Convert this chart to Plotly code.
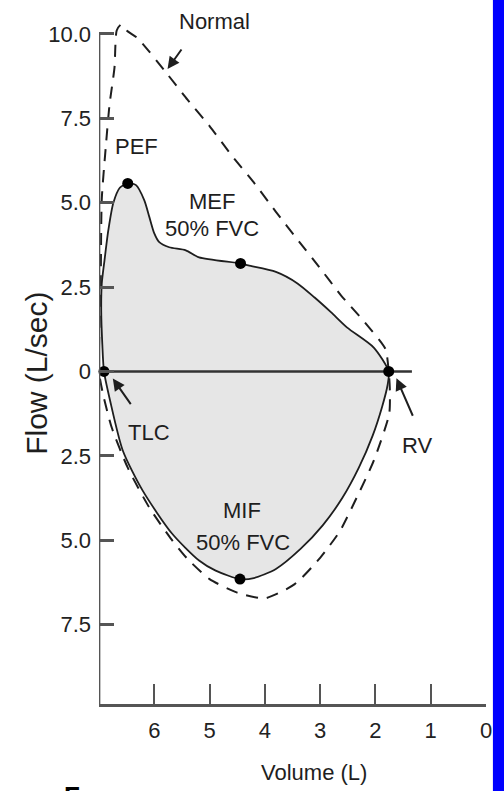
import plotly.graph_objects as go

# ---------------- data (volume in L, flow in L/sec; inspiratory flow negative) -------------
patient_exp_vol = [6.91, 6.94, 6.96, 6.95, 6.90, 6.83, 6.74, 6.62, 6.48, 6.33, 6.18, 6.09, 6.00,
                   5.91, 5.73, 5.43, 5.19, 4.44, 4.30, 3.80, 3.41, 3.10, 2.80, 2.51, 2.03, 1.76]
patient_exp_flow = [0.0, 0.8, 1.8, 2.6, 3.3, 4.2, 5.0, 5.45, 5.57, 5.52, 5.07, 4.58, 4.09,
                    3.83, 3.68, 3.59, 3.38, 3.20, 3.14, 2.95, 2.61, 2.19, 1.75, 1.30, 0.71, 0.0]
patient_insp_vol = [1.76, 1.78, 1.88, 2.05, 2.30, 2.60, 2.95, 3.35, 3.80, 4.20, 4.45, 4.89,
                    5.19, 5.68, 6.21, 6.57, 6.80, 6.91]
patient_insp_flow = [0.0, -0.40, -1.05, -1.90, -2.85, -3.75, -4.55, -5.25, -5.85, -6.12, -6.15,
                     -5.90, -5.60, -4.80, -3.53, -2.34, -0.86, 0.0]

normal_vol = [7.00, 6.97, 6.95, 6.88, 6.81, 6.72, 6.68, 6.60, 6.50, 6.30, 5.76, 5.40, 5.00,
              4.60, 4.20, 3.80, 3.42, 3.02, 2.62, 2.20, 1.82, 1.76, 1.74, 1.75, 2.03, 2.34,
              2.64, 3.00, 3.46, 4.00, 4.50, 5.00, 5.40, 5.70, 6.09, 6.48, 6.77, 6.93, 7.00]
normal_flow = [0.0, 2.5, 5.1, 6.6, 7.9, 9.0, 10.1, 10.28, 10.1, 9.87, 8.8, 8.05, 7.27,
               6.4, 5.6, 4.73, 3.93, 3.1, 2.25, 1.47, 0.67, 0.0, -0.5, -1.25, -2.64, -3.74,
               -4.72, -5.52, -6.30, -6.72, -6.55, -6.15, -5.55, -4.95, -4.03, -2.85, -1.66, -0.65, 0.0]

baseline_vol = [7.0, 1.34]
baseline_flow = [0.0, 0.0]

key_names = ["TLC", "PEF", "MEF", "RV", "MIF"]
key_vol = [6.91, 6.48, 4.44, 1.76, 4.45]
key_flow = [0.0, 5.57, 3.20, 0.0, -6.15]

y_tickvals = [10, 7.5, 5, 2.5, 0, -2.5, -5, -7.5]
y_ticktext = ["10.0", "7.5", "5.0", "2.5", "0", "2.5", "5.0", "7.5"]
x_tickvals = [6, 5, 4, 3, 2, 1, 0]
x_ticktext = ["6", "5", "4", "3", "2", "1", "0"]

# ---------------- layout geometry -------------
W, H = 504, 791
L, R, T, B = 99, 13, 15, 87
PW, PH = W - L - R, H - T - B
X_RANGE = [7.0, 0.0]
Y_RANGE = [-9.85, 10.56]


def px_x(p):
    return (p - L) / PW


def px_y(p):
    return (H - B - p) / PH


FONT = "Liberation Sans, Arial, Helvetica, sans-serif"
INK = "#1e1e1e"
AXC = "#555555"

fig = go.Figure()

loop_v = patient_exp_vol + patient_insp_vol[1:]
loop_f = patient_exp_flow + patient_insp_flow[1:]
fig.add_trace(go.Scatter(x=loop_v, y=loop_f, mode="lines", fill="toself",
                         fillcolor="#e6e6e6",
                         line=dict(color=INK, width=1.8, shape="spline", smoothing=0.7),
                         hoverinfo="skip"))
fig.add_trace(go.Scatter(x=normal_vol, y=normal_flow, mode="lines",
                         line=dict(color=INK, width=2, dash="12px,9px", shape="spline",
                                   smoothing=0.6),
                         hoverinfo="skip"))
fig.add_trace(go.Scatter(x=baseline_vol, y=baseline_flow, mode="lines",
                         line=dict(color="#333333", width=2.5), hoverinfo="skip"))
fig.add_trace(go.Scatter(x=key_vol, y=key_flow, mode="markers", text=key_names,
                         marker=dict(color="black", size=11), cliponaxis=False))

fig.update_xaxes(range=X_RANGE, tickvals=x_tickvals, ticktext=x_ticktext,
                 showgrid=False, zeroline=False, showline=True, linecolor=AXC,
                 linewidth=2.5, ticks="inside", ticklen=20, tickwidth=2, tickcolor=AXC,
                 ticklabelstandoff=5,
                 tickfont=dict(family=FONT, size=22, color="#222"))
fig.update_yaxes(range=Y_RANGE, tickvals=y_tickvals, ticktext=y_ticktext,
                 showgrid=False, zeroline=False, showline=False,
                 ticks="inside", ticklen=15, tickwidth=2.5, tickcolor=AXC,
                 ticklabelstandoff=7,
                 tickfont=dict(family=FONT, size=22, color="#222"))

shapes = [
    dict(type="line", xref="x", yref="y", x0=7.0, x1=7.0, y0=Y_RANGE[0], y1=10.0,
         line=dict(color=AXC, width=2.7)),
    dict(type="rect", xref="paper", yref="paper", x0=px_x(498), x1=px_x(530),
         y0=-1, y1=2, fillcolor="#0000ff", line=dict(width=0), layer="above"),
]

ann = []


def label(text, x, y, size=22, **kw):
    ann.append(dict(text=text, x=px_x(x), y=px_y(y), xref="paper", yref="paper",
                    showarrow=False, xanchor="center", yanchor="middle",
                    font=dict(family=FONT, size=size, color=INK), **kw))


def arrow(xv, yf, ax, ay):
    ann.append(dict(text="", x=xv, y=yf, xref="x", yref="y", ax=ax, ay=ay,
                    showarrow=True, arrowhead=2, arrowsize=1.2, arrowwidth=2,
                    arrowcolor=INK))


label("Normal", 216, 22)
label("PEF", 137, 146)
label("MEF", 213, 201)
label("50% FVC", 213, 229)
label("TLC", 150, 432)
label("RV", 421, 445)
label("MIF", 244, 510)
label("50% FVC", 245, 542)
label("Volume (L)", 317, 772)
label("Flow (L/sec)", 35, 373, size=30, textangle=-90)
ann.append(dict(text="<b>F</b>", x=px_x(72), y=px_y(779), xref="paper", yref="paper",
                showarrow=False, xanchor="center", yanchor="top",
                font=dict(family=FONT, size=26, color="black")))

arrow(5.76, 8.96, 15, -21)
arrow(6.75, -0.21, 19, 27)
arrow(1.62, -0.2, 17, 39)

fig.update_layout(width=W, height=H, margin=dict(l=L, r=R, t=T, b=B),
                  plot_bgcolor="white", paper_bgcolor="white", showlegend=False,
                  shapes=shapes, annotations=ann)

fig.write_html("out.html", config={"displayModeBar": False},
               post_script="document.body.style.margin='0';document.body.style.overflow='hidden';")
